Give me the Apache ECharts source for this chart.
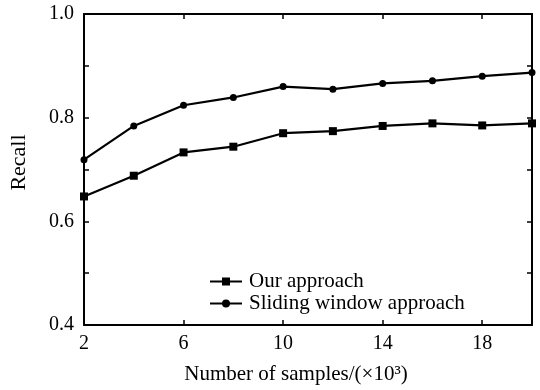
<!DOCTYPE html>
<html><head><meta charset="utf-8">
<script src="https://cdn.jsdelivr.net/npm/echarts@6/dist/echarts.min.js"></script>
<style>html,body{margin:0;padding:0;background:#fff}#c{width:540px;height:390px}</style>
</head><body><div id="c"></div>
<script>
var samples = [2, 4, 6, 8, 10, 12, 14, 16, 18, 20];
var ourApproach = [0.648, 0.688, 0.733, 0.744, 0.770, 0.774, 0.784, 0.789, 0.785, 0.789];
var slidingWindow = [0.719, 0.784, 0.824, 0.839, 0.860, 0.855, 0.866, 0.871, 0.880, 0.887];
var xTicks = [2, 6, 10, 14, 18];
var yLabels = [0.4, 0.6, 0.8, 1.0];
var yTicks = [0.4, 0.5, 0.6, 0.7, 0.8, 0.9, 1.0];

var font = 'Liberation Serif';
function pairs(v){ return samples.map(function(x,i){ return [x, v[i]]; }); }
var lineW = 2.2;
var chart = echarts.init(document.getElementById('c'));
var axisLineStyle = {color:'#000', width:2};
chart.setOption({
  animation:false,
  grid:{left:84, right:8, top:14, bottom:64},
  legend:{
    orient:'vertical', left:204, top:266, itemGap:1, itemWidth:32, itemHeight:10,
    textStyle:{fontFamily:font, fontSize:21, color:'#000', padding:[0,0,0,2]},
    data:['Our approach','Sliding window approach']
  },
  xAxis:[{
    type:'value', min:2, max:20, position:'bottom',
    name:'Number of samples/(×10³)', nameLocation:'middle', nameGap:39,
    nameTextStyle:{fontFamily:font, fontSize:21, color:'#000', padding:[0,24,0,0]},
    axisLine:{lineStyle:axisLineStyle},
    axisTick:{inside:true, length:5, customValues:xTicks, lineStyle:{color:'#000', width:1.5}},
    axisLabel:{customValues:xTicks, fontFamily:font, fontSize:20, color:'#000', margin:9},
    splitLine:{show:false}
  },{
    type:'value', min:2, max:20, position:'top',
    axisLine:{lineStyle:axisLineStyle},
    axisTick:{inside:true, length:5, customValues:xTicks, lineStyle:{color:'#000', width:1.5}},
    axisLabel:{show:false}, splitLine:{show:false}
  }],
  yAxis:[{
    type:'value', min:0.4, max:1.0, position:'left',
    name:'Recall', nameLocation:'middle', nameGap:54,
    nameTextStyle:{fontFamily:font, fontSize:22, color:'#000', padding:[0,0,0,14]},
    axisLine:{show:true, lineStyle:axisLineStyle},
    axisTick:{show:true, inside:true, length:5, customValues:yTicks, lineStyle:{color:'#000', width:1.5}},
    axisLabel:{customValues:yLabels, fontFamily:font, fontSize:20, color:'#000', margin:10,
      formatter:function(v){ return v.toFixed(1); }},
    splitLine:{show:false}
  },{
    type:'value', min:0.4, max:1.0, position:'right',
    axisLine:{show:true, lineStyle:axisLineStyle},
    axisTick:{show:true, inside:true, length:5, customValues:yTicks, lineStyle:{color:'#000', width:1.5}},
    axisLabel:{show:false}, splitLine:{show:false}
  }],
  series:[{
    name:'Our approach', type:'line', data:pairs(ourApproach),
    symbol:'rect', symbolSize:8, color:'#000',
    lineStyle:{color:'#000', width:lineW}, itemStyle:{color:'#000'}
  },{
    name:'Sliding window approach', type:'line', data:pairs(slidingWindow),
    symbol:'circle', symbolSize:7, color:'#000',
    lineStyle:{color:'#000', width:lineW}, itemStyle:{color:'#000'}
  }]
});
</script></body></html>
